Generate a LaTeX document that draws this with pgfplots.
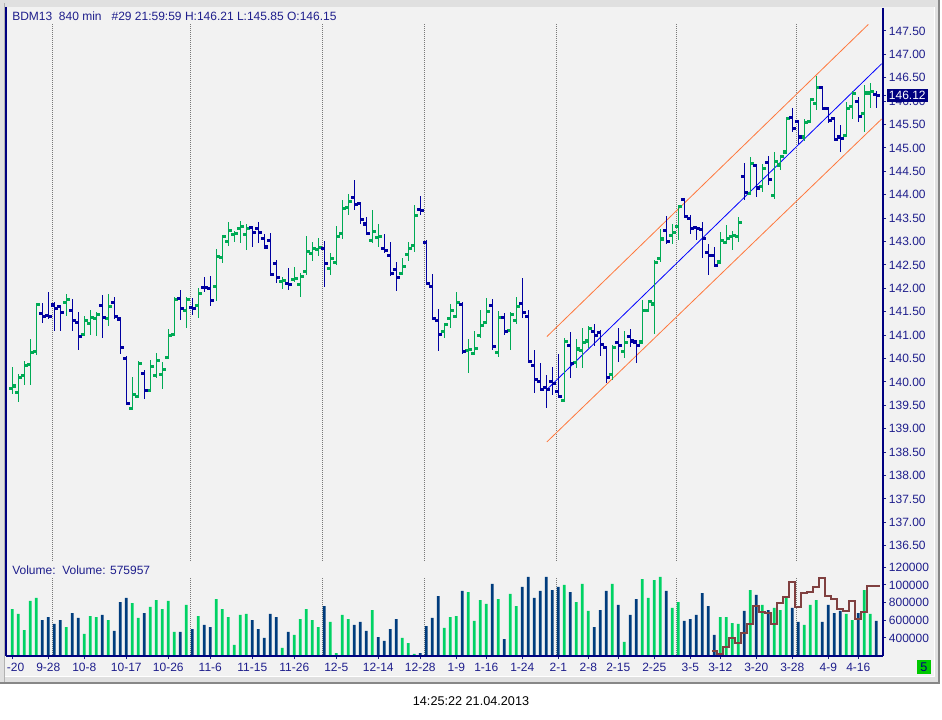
\documentclass[border=0pt]{standalone}
\usepackage{pgfplots}
\pgfplotsset{compat=1.18}
\usepackage{pgfplotstable}
\usepackage{fontspec}
\setmainfont{Liberation Sans}
\definecolor{pgreen}{RGB}{0,170,85}
\definecolor{pblue}{RGB}{0,0,160}
\definecolor{vgreen}{RGB}{0,210,100}
\definecolor{vblue}{RGB}{0,60,125}
\definecolor{navyb}{RGB}{0,0,128}
\definecolor{txt}{RGB}{30,30,140}
\definecolor{panel}{RGB}{242,242,242}
\definecolor{framec}{RGB}{224,224,224}
\definecolor{framedark}{RGB}{135,135,135}
\definecolor{chorange}{RGB}{255,120,60}
\definecolor{chblue}{RGB}{0,0,255}
\definecolor{brownc}{RGB}{128,64,64}
\definecolor{gridc}{RGB}{120,120,120}
\definecolor{boxgreen}{RGB}{0,200,0}
\newcommand{\lf}{\fontsize{9}{11}\selectfont}

\pgfplotstableread{
i o h l c d v vd
0 139.87 140.31 139.75 139.92 1 727000 1
1 139.78 140.17 139.58 140.10 1 671000 1
2 140.15 140.45 139.93 140.35 1 490000 1
3 140.38 140.92 139.93 140.64 1 818000 1
4 140.66 141.68 140.58 141.66 1 852000 1
5 141.47 141.69 141.27 141.41 0 603000 0
6 141.43 141.93 141.34 141.41 0 637000 0
7 141.65 141.71 141.10 141.58 0 558000 0
8 141.62 141.65 141.08 141.49 0 603000 0
9 141.71 141.88 141.42 141.76 1 524000 1
10 141.54 141.78 141.10 141.32 0 682000 0
11 141.28 141.50 140.69 140.98 0 626000 0
12 141.02 141.41 140.99 141.32 1 445000 1
13 141.26 141.54 141.01 141.39 1 648000 1
14 141.36 141.49 140.99 141.45 1 637000 1
15 141.64 141.86 140.95 141.39 0 660000 0
16 141.36 141.88 141.19 141.62 1 603000 1
17 141.71 141.81 141.34 141.41 0 479000 0
18 141.35 141.40 140.60 140.74 0 806000 0
19 140.51 140.56 139.51 139.55 0 852000 0
20 139.44 140.10 139.41 139.74 1 795000 1
21 139.70 140.45 139.68 140.40 1 626000 1
22 140.19 140.26 139.64 139.83 0 682000 0
23 139.83 140.47 139.80 140.34 1 750000 1
24 140.15 140.61 140.08 140.46 1 829000 1
25 140.17 140.42 139.85 140.27 1 727000 1
26 140.53 141.13 140.49 141.00 1 818000 1
27 141.02 141.82 140.98 141.77 1 468000 1
28 141.79 141.97 141.33 141.57 0 468000 0
29 141.53 141.81 141.15 141.77 1 773000 1
30 141.59 141.80 141.43 141.57 0 501000 0
31 141.64 142.00 141.36 141.89 1 648000 1
32 142.03 142.24 141.93 142.02 0 547000 0
33 142.00 142.27 141.62 141.75 0 524000 0
34 142.04 142.84 141.74 142.69 1 840000 1
35 142.66 143.12 142.55 143.11 1 727000 1
36 143.01 143.43 142.91 143.24 1 637000 1
37 143.16 143.23 143.00 143.18 1 321000 1
38 143.28 143.43 142.96 143.33 1 660000 1
39 143.16 143.37 142.81 143.28 1 671000 1
40 143.31 143.34 142.89 143.20 0 603000 0
41 143.28 143.41 142.98 143.20 0 501000 0
42 143.07 143.16 142.85 142.89 0 400000 0
43 143.03 143.18 142.27 142.30 0 671000 0
44 142.54 142.61 142.11 142.24 0 637000 0
45 142.15 142.24 141.99 142.17 1 287000 1
46 142.11 142.43 141.97 142.09 0 468000 0
47 142.19 142.45 142.13 142.21 1 434000 1
48 142.09 142.32 141.81 142.25 1 614000 1
49 142.37 143.12 142.29 142.80 1 727000 1
50 142.75 143.00 142.59 142.86 1 603000 1
51 142.83 143.07 142.70 142.88 1 524000 1
52 142.86 143.01 142.04 142.54 0 761000 0
53 142.43 142.75 142.29 142.64 1 581000 1
54 142.56 143.33 142.51 143.12 1 230000 1
55 143.18 143.89 143.06 143.71 1 660000 1
56 143.73 144.02 143.57 143.86 1 614000 1
57 143.95 144.32 143.68 143.80 0 547000 0
58 143.82 143.85 143.38 143.48 0 581000 0
59 143.38 143.53 143.16 143.18 0 479000 0
60 143.03 143.68 142.98 143.22 1 716000 1
61 143.10 143.38 142.89 143.11 1 411000 0
62 142.86 143.16 142.75 142.81 0 366000 0
63 142.71 143.00 142.27 142.32 0 501000 0
64 142.41 142.56 141.95 142.24 0 614000 0
65 142.32 142.64 142.29 142.47 1 400000 1
66 142.73 142.99 142.59 142.86 1 343000 1
67 142.92 143.78 142.77 143.56 1 219000 1
68 143.69 143.97 143.57 143.67 0 230000 0
69 142.98 143.03 142.11 142.11 0 535000 0
70 142.05 142.31 141.36 141.36 0 626000 0
71 141.32 141.57 140.67 141.02 0 874000 0
72 141.08 141.23 140.95 141.23 1 513000 1
73 141.36 141.67 141.16 141.53 1 637000 1
74 141.40 141.93 141.36 141.70 1 648000 1
75 141.66 141.72 140.59 140.66 0 931000 0
76 140.68 140.92 140.20 140.70 1 919000 1
77 140.61 141.09 140.59 140.72 1 592000 1
78 141.00 141.54 140.95 141.21 1 829000 1
79 141.28 141.79 141.23 141.51 1 784000 1
80 141.64 141.77 140.68 140.76 0 1010000 0
81 140.63 141.52 140.54 141.38 1 840000 1
82 141.38 141.47 141.00 141.08 0 388000 0
83 141.10 141.50 140.68 141.45 1 897000 1
84 141.32 141.82 141.23 141.62 1 761000 1
85 141.68 142.22 141.36 141.49 0 976000 0
86 141.40 141.54 140.40 140.45 0 1089000 0
87 140.36 140.68 139.76 140.06 0 852000 0
88 140.02 140.41 139.81 139.84 0 931000 0
89 139.89 140.14 139.44 139.84 0 1089000 0
90 140.02 140.33 139.72 139.97 0 942000 0
91 139.81 140.59 139.65 139.70 0 976000 0
92 139.61 140.95 139.60 140.87 1 999000 1
93 140.78 141.07 140.09 140.40 0 919000 0
94 140.42 140.93 140.31 140.71 1 806000 1
95 140.68 141.15 140.29 140.85 1 1010000 1
96 140.88 141.20 140.72 141.15 1 705000 1
97 141.09 141.25 140.78 140.99 0 524000 0
98 141.07 141.11 140.56 140.80 0 716000 0
99 140.74 140.75 139.99 140.10 0 931000 0
100 140.16 140.80 140.04 140.74 1 1010000 1
101 140.85 141.15 140.43 140.78 0 773000 0
102 140.66 141.08 140.51 140.85 1 355000 1
103 140.98 141.13 140.75 140.88 0 660000 0
104 140.86 140.88 140.40 140.78 0 840000 0
105 140.86 141.75 140.83 141.53 1 1066000 1
106 141.53 141.75 141.50 141.72 1 852000 1
107 141.67 142.61 141.02 142.56 1 1055000 1
108 142.64 143.28 142.57 143.06 1 1089000 1
109 143.25 143.55 142.96 143.00 0 931000 0
110 143.14 143.37 142.96 143.20 1 739000 1
111 143.32 143.78 143.03 143.76 1 806000 1
112 143.91 143.94 143.52 143.55 0 592000 0
113 143.50 143.57 143.16 143.29 0 614000 0
114 143.30 143.32 143.03 143.28 0 660000 0
115 143.27 143.43 142.64 143.07 0 908000 0
116 142.77 142.94 142.29 142.70 0 761000 0
117 142.70 142.89 142.49 142.50 0 434000 0
118 142.57 143.21 142.54 143.03 1 637000 1
119 142.98 143.35 142.94 143.08 1 637000 1
120 143.12 143.23 142.82 143.13 1 569000 1
121 143.11 143.53 143.00 143.42 1 558000 1
122 144.40 144.69 143.88 144.05 0 705000 0
123 144.03 144.80 144.00 144.67 1 942000 1
124 144.63 144.64 143.96 144.15 0 886000 0
125 144.18 144.66 144.05 144.56 1 773000 1
126 144.70 144.84 144.21 144.34 0 716000 0
127 143.99 144.92 143.91 144.72 1 739000 1
128 144.64 144.85 144.52 144.83 1 716000 1
129 144.92 145.66 144.87 145.63 1 852000 1
130 145.66 145.85 145.35 145.42 0 739000 0
131 145.58 145.60 145.09 145.24 0 581000 0
132 145.24 145.63 145.14 145.55 1 547000 1
133 145.58 146.06 145.55 146.05 1 773000 1
134 145.95 146.54 145.81 146.29 1 829000 1
135 146.30 146.32 145.83 145.85 0 581000 0
136 145.85 145.88 145.53 145.59 0 773000 0
137 145.64 145.67 145.17 145.19 0 682000 0
138 145.24 145.49 144.92 145.21 0 705000 0
139 145.27 145.98 145.24 145.85 1 671000 1
140 145.90 146.22 145.62 146.17 1 603000 1
141 146.00 146.08 145.56 145.68 0 682000 0
142 145.74 146.35 145.35 146.18 1 942000 1
143 146.18 146.38 145.86 146.22 1 671000 1
144 146.15 146.21 145.85 146.12 0 592000 0
}\bars

\begin{document}
\begin{tikzpicture}
\fill[white] (0,0) rectangle (706.5pt,539.25pt);
\begin{scope}[shift={(0pt,539.25pt)}, x=0.75pt, y=-0.75pt]
  \fill[framec] (0,0) rectangle (940,684);
  \fill[framedark] (937.5,0) rectangle (940,684);
  \fill[framedark] (0,681.5) rectangle (940,684);
  \fill[gray!60] (3.5,3) rectangle (4.8,681.5);
  \fill[panel] (5,7) rectangle (934,676);
  \draw[white, line width=0.75pt] (934.5,7) -- (934.5,676.5) -- (5,676.5);
\end{scope}

% ---------- price panel ----------
\begin{axis}[
  at={(4.5pt,118.5pt)}, anchor=south west,
  scale only axis, width=657.75pt, height=414.75pt,
  xmin=-1.05, xmax=145.12, ymin=136.175, ymax=147.991,
  axis line style={draw=none},
  xtick=\empty,
  ytick={136.5,137,...,147.5},
  ytick pos=right, yticklabel pos=right,
  tick align=outside, major tick length=2.25pt,
  tick style={txt, line width=0.75pt},
  /pgf/number format/assume math mode=true,
  yticklabel style={font=\lf, text=txt, anchor=west, inner sep=0pt, xshift=2pt,
    /pgf/number format/fixed, /pgf/number format/fixed zerofill, /pgf/number format/precision=2},
  extra y ticks={146.12}, extra y tick labels={146.12},
  extra y tick style={yticklabel style={fill=navyb, text=white, inner sep=1.7pt, xshift=-1.7pt}},
]
\pgfplotsinvokeforeach{6.67,29.67,51.67,68.67,90.7,110.7,130.67}{
  \addplot[gridc, line width=0.75pt, dash pattern=on 0.75pt off 0.75pt, forget plot] coordinates {(#1,136.1) (#1,147.67)};
}
\addplot[chorange, line width=0.6pt] coordinates {(89.1,140.97) (142.67,147.64)};
\addplot[chblue, line width=0.6pt] coordinates {(89.1,139.84) (144.9,146.80)};
\addplot[chorange, line width=0.6pt] coordinates {(89.1,138.72) (144.9,145.62)};
% high-low lines
\addplot[draw=none, mark=none, restrict expr to domain={\thisrow{d}}{1:1},
  error bars/.cd, y dir=both, y explicit, error mark=none,
  error bar style={draw=pgreen, line width=0.75pt}]
  table[x=i, y expr={(\thisrow{h}+\thisrow{l})/2}, y error expr={(\thisrow{h}-\thisrow{l})/2}] {\bars};
\addplot[draw=none, mark=none, restrict expr to domain={\thisrow{d}}{0:0},
  error bars/.cd, y dir=both, y explicit, error mark=none,
  error bar style={draw=pblue, line width=0.75pt}]
  table[x=i, y expr={(\thisrow{h}+\thisrow{l})/2}, y error expr={(\thisrow{h}-\thisrow{l})/2}] {\bars};
% open / close ticks
\addplot[only marks, mark=square*, mark size=0.8pt, color=pgreen,
  mark options={xshift=-1.1pt, draw=none, fill=pgreen},
  restrict expr to domain={\thisrow{d}}{1:1}] table[x=i, y=o] {\bars};
\addplot[only marks, mark=square*, mark size=0.8pt, color=pgreen,
  mark options={xshift=1.1pt, draw=none, fill=pgreen},
  restrict expr to domain={\thisrow{d}}{1:1}] table[x=i, y=c] {\bars};
\addplot[only marks, mark=square*, mark size=0.8pt, color=pblue,
  mark options={xshift=-1.1pt, draw=none, fill=pblue},
  restrict expr to domain={\thisrow{d}}{0:0}] table[x=i, y=o] {\bars};
\addplot[only marks, mark=square*, mark size=0.8pt, color=pblue,
  mark options={xshift=1.1pt, draw=none, fill=pblue},
  restrict expr to domain={\thisrow{d}}{0:0}] table[x=i, y=c] {\bars};
\end{axis}

% ---------- volume panel ----------
\begin{axis}[
  at={(4.5pt,47.25pt)}, anchor=south west,
  scale only axis, width=657.75pt, height=71.25pt,
  xmin=-1.05, xmax=145.12, ymin=196271, ymax=1269676,
  axis line style={draw=none},
  xtick={0,6,12,19,26,33,40,47,54,61,68,74,79,85,91,96,101,107,113,118,124,130,136,141},
  xticklabels={{\phantom{9}-20},9-28,10-8,10-17,10-26,11-6,11-15,11-26,12-5,12-14,12-28,1-9,1-16,1-24,2-1,2-8,2-15,2-25,3-5,3-12,3-20,3-28,4-9,4-16},
  xtick pos=bottom,
  ytick={400000,600000,800000,1000000,1200000},
  yticklabels={400000,600000,800000,100000,120000},
  ytick pos=right, yticklabel pos=right,
  scaled y ticks=false,
  tick align=outside, major tick length=2.25pt,
  tick style={txt, line width=0.75pt},
  ticklabel style={font=\lf, text=txt},
  yticklabel style={anchor=west, inner sep=0pt, xshift=2pt},
  xticklabel style={anchor=north, inner sep=0pt, yshift=-3pt},
]
\pgfplotsinvokeforeach{6.67,29.67,51.67,68.67,90.7,110.7,130.67}{
  \addplot[gridc, line width=0.75pt, dash pattern=on 0.75pt off 0.75pt, forget plot] coordinates {(#1,190000) (#1,1072700)};
}
\addplot[ybar, bar width=2.1pt, bar shift=0pt, fill=vgreen, draw=none,
  restrict expr to domain={\thisrow{vd}}{1:1}] table[x=i, y=v] {\bars};
\addplot[ybar, bar width=2.1pt, bar shift=0pt, fill=vblue, draw=none,
  restrict expr to domain={\thisrow{vd}}{0:0}] table[x=i, y=v] {\bars};
\addplot[const plot mark mid, brownc, line width=1.5pt] coordinates {
(116.67,256600) (117,256600) (118,215200) (119,294300) (120,404000) (121,339500)
(122,452500) (123,558000) (124,761000) (125,697000) (126,678000) (127,558000)
(128,791000) (129,859000) (130,1036000) (131,754000) (132,904000) (133,923000)
(134,980000) (135,1081000) (136,874000) (137,840000) (138,731000) (139,705000)
(140,818000) (141,611000) (142,697000) (143,991000) (144,991000) (144.67,991000)};
\end{axis}

\begin{scope}[shift={(0pt,539.25pt)}, x=0.75pt, y=-0.75pt]
  \draw[navyb, line width=1.1pt] (6,7) -- (6,656);
  \draw[navyb, line width=0.8pt] (5.5,656) -- (883.4,656);
  \draw[navyb, line width=0.8pt] (883,8) -- (883,656.4);
  \node[anchor=west, inner sep=0pt, text=txt, font=\lf] at (12,16.7)
    {BDM13\ \ 840 min\ \ \ \#29 21:59:59 H:146.21 L:145.85 O:146.15};
  \node[anchor=west, inner sep=0pt, text=txt, font=\lf] at (12,570)
    {Volume:\ \ Volume: 575957};
  \fill[boxgreen] (917,660) rectangle (931,674);
  \node[inner sep=0pt, text=navyb, font=\fontsize{9.5}{11}\selectfont] at (924,667.3) {5};
  \node[inner sep=0pt, text=black, font=\fontsize{9.5}{11}\selectfont] at (471,701.5) {14:25:22 21.04.2013};
\end{scope}
\end{tikzpicture}
\end{document}
